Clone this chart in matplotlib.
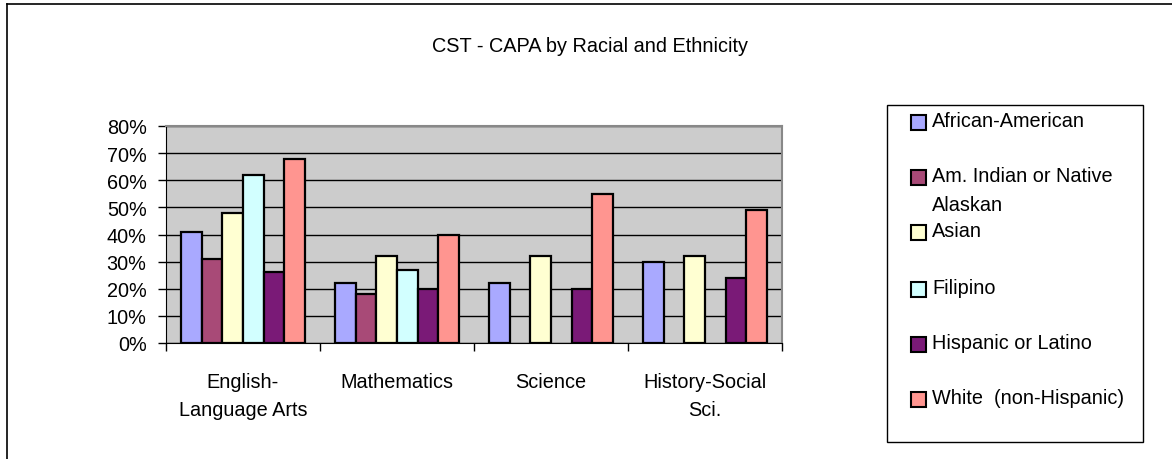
import matplotlib
matplotlib.use("Agg")
import matplotlib.pyplot as plt
from matplotlib.patches import Rectangle
from matplotlib.lines import Line2D
import numpy as np

categories = ["English-\nLanguage Arts", "Mathematics", "Science", "History-Social\nSci."]
series_names = ["African-American", "Am. Indian or Native\nAlaskan", "Asian", "Filipino",
                "Hispanic or Latino", "White  (non-Hispanic)"]
african_american = [41, 22, 22, 30]
am_indian = [31, 18, np.nan, np.nan]
asian = [48, 32, 32, 32]
filipino = [62, 27, np.nan, np.nan]
hispanic = [26, 20, 20, 24]
white = [68, 40, 55, 49]
yticks = [0, 10, 20, 30, 40, 50, 60, 70, 80]
ytick_labels = ["0%", "10%", "20%", "30%", "40%", "50%", "60%", "70%", "80%"]
title = "CST - CAPA by Racial and Ethnicity"

series = [african_american, am_indian, asian, filipino, hispanic, white]
colors = ["#A9A9FF", "#A84A77", "#FFFFD2", "#D2FFFF", "#7A1A77", "#FF9590"]

plt.rcParams['font.family'] = ['Liberation Sans', 'DejaVu Sans']
FS = 14.3

W, H = 1172, 460
fig = plt.figure(figsize=(W / 100, H / 100), dpi=100)
ax = fig.add_axes([166 / W, 1 - 344 / H, (782 - 166) / W, (344 - 127) / H])
ax.set_facecolor("#CCCCCC")

x = np.arange(len(categories))
bw = 0.134
for j, (vals, c) in enumerate(zip(series, colors)):
    ax.bar(x + (j - 2.5) * bw, vals, width=bw, color=c, edgecolor="black",
           linewidth=1.6, zorder=3)

ax.set_xlim(-0.5, len(categories) - 0.5)
ax.set_ylim(0, 80)
ax.set_yticks(yticks)
ax.set_yticklabels(ytick_labels, fontsize=FS)
ax.yaxis.grid(True, color="black", linewidth=1.0, zorder=1)
ax.set_axisbelow(True)
ax.tick_params(axis="y", direction="out", length=6, width=1, pad=8, colors="black")

# x ticks at category boundaries, labels at centers
ax.set_xticks(np.arange(len(categories) + 1) - 0.5)
ax.set_xticklabels([])
ax.tick_params(axis="x", direction="out", length=6, width=1)
ax.set_xticks(x, minor=True)
ax.set_xticklabels(categories, minor=True, fontsize=FS, linespacing=1.6)
ax.tick_params(axis="x", which="minor", length=0, pad=21)

for s in ["top", "right"]:
    ax.spines[s].set_color("#888888")
    ax.spines[s].set_linewidth(1.5)
ax.spines["left"].set_color("black")
ax.spines["bottom"].set_color("black")

fig.text(590 / W, 1 - 46 / H, title, ha="center", va="center", fontsize=FS)

# outer frame
fig.add_artist(Line2D([7 / W, 1.0], [1 - 5 / H, 1 - 5 / H], color="black", linewidth=1.2,
                      transform=fig.transFigure))
fig.add_artist(Line2D([7 / W, 7 / W], [1 - 5 / H, 0], color="black", linewidth=1.2,
                      transform=fig.transFigure))

# legend box
fig.add_artist(Rectangle((887 / W, 1 - 443 / H), (1143 - 887) / W, (443 - 106) / H,
                         transform=fig.transFigure, facecolor="white", edgecolor="black",
                         linewidth=1.0))
entry_y = [123, 178, 233, 290, 345, 400]
for name, c, yy in zip(series_names, colors, entry_y):
    fig.add_artist(Rectangle((911 / W, 1 - (yy + 8) / H), 15 / W, 15 / H,
                             transform=fig.transFigure, facecolor=c, edgecolor="black",
                             linewidth=1.5))
    fig.text(932 / W, 1 - (yy - 11) / H, name, ha="left", va="top", fontsize=FS,
             linespacing=1.65)

fig.savefig("out.png", dpi=100)
